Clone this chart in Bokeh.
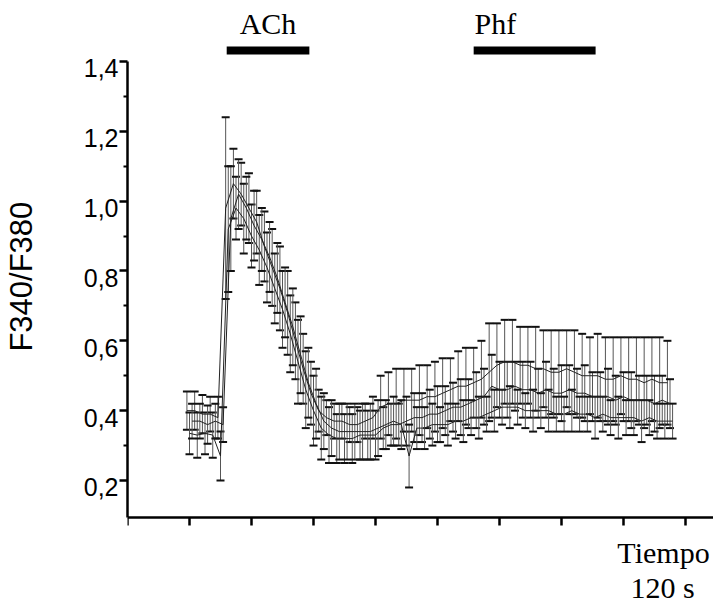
from bokeh.plotting import figure
from bokeh.models import (ColumnDataSource, Whisker, TeeHead, FixedTicker, Range1d,
                          LinearAxis)
from bokeh.core.properties import value
from bokeh.embed import file_html
from bokeh.resources import INLINE

# ---------------- data ----------------
# three cells, sampled every 15 s (staggered start)
time_a = list(range(115, 1046, 15))
time_b = list(range(120, 1051, 15))
time_c = list(range(125, 1056, 15))

a_mean = [0.40, 0.40, 0.39, 0.39, 0.38,
          0.98, 1.05, 1.02, 0.98, 0.94, 0.87, 0.81, 0.75, 0.68, 0.60,
          0.52, 0.45, 0.40, 0.38, 0.37, 0.37, 0.36, 0.36, 0.37, 0.38,
          0.41, 0.42, 0.42, 0.43, 0.43, 0.43, 0.44, 0.44, 0.45, 0.46,
          0.47, 0.47, 0.48, 0.49, 0.51, 0.53, 0.54, 0.54, 0.53, 0.53,
          0.52, 0.52, 0.51, 0.51, 0.52, 0.51, 0.50, 0.50, 0.50, 0.49,
          0.49, 0.50, 0.49, 0.49, 0.48, 0.49, 0.48, 0.48]
a_err = [0.055, 0.055, 0.055, 0.05, 0.06,
         0.26, 0.10, 0.09, 0.10, 0.09, 0.10, 0.11, 0.12, 0.12, 0.11,
         0.10, 0.09, 0.06, 0.05, 0.05, 0.05, 0.05, 0.05, 0.05, 0.06,
         0.09, 0.09, 0.10, 0.09, 0.09, 0.10, 0.09, 0.10, 0.10, 0.09,
         0.10, 0.11, 0.10, 0.11, 0.14, 0.12, 0.12, 0.12, 0.11, 0.11,
         0.12, 0.11, 0.12, 0.12, 0.11, 0.12, 0.12, 0.11, 0.12, 0.12,
         0.12, 0.11, 0.12, 0.12, 0.13, 0.12, 0.13, 0.12]

b_mean = [0.335, 0.33, 0.335, 0.33, 0.27,
          0.92, 0.98, 0.95, 0.90, 0.86, 0.81, 0.75, 0.69, 0.62, 0.54,
          0.46, 0.40, 0.35, 0.33, 0.32, 0.32, 0.32, 0.33, 0.33, 0.33,
          0.35, 0.36, 0.36, 0.37, 0.38, 0.38, 0.39, 0.39, 0.40, 0.41,
          0.41, 0.42, 0.43, 0.44, 0.47, 0.46, 0.46, 0.47, 0.46, 0.46,
          0.45, 0.46, 0.45, 0.45, 0.46, 0.45, 0.45, 0.44, 0.44, 0.44,
          0.43, 0.44, 0.43, 0.43, 0.43, 0.42, 0.43, 0.42]
b_err = [0.06, 0.065, 0.06, 0.065, 0.07,
         0.18, 0.09, 0.10, 0.09, 0.10, 0.10, 0.10, 0.11, 0.11, 0.12,
         0.11, 0.10, 0.09, 0.08, 0.07, 0.07, 0.07, 0.07, 0.07, 0.07,
         0.06, 0.06, 0.06, 0.07, 0.07, 0.07, 0.07, 0.08, 0.07, 0.07,
         0.08, 0.07, 0.08, 0.08, 0.09, 0.08, 0.08, 0.07, 0.08, 0.08,
         0.07, 0.08, 0.07, 0.08, 0.07, 0.07, 0.08, 0.07, 0.07, 0.08,
         0.07, 0.07, 0.08, 0.07, 0.07, 0.08, 0.07, 0.07]

c_mean = [0.37, 0.37, 0.36, 0.37, 0.36,
          0.95, 1.02, 0.98, 0.93, 0.89, 0.84, 0.78, 0.71, 0.64, 0.56,
          0.48, 0.42, 0.37, 0.35, 0.34, 0.34, 0.34, 0.34, 0.34, 0.35,
          0.36, 0.37, 0.36, 0.27, 0.35, 0.35, 0.36, 0.36, 0.36, 0.37,
          0.37, 0.38, 0.38, 0.39, 0.40, 0.41, 0.41, 0.41, 0.40, 0.40,
          0.40, 0.40, 0.39, 0.39, 0.40, 0.39, 0.39, 0.38, 0.39, 0.38,
          0.38, 0.38, 0.38, 0.37, 0.38, 0.37, 0.37, 0.37]
c_err = [0.05, 0.05, 0.055, 0.05, 0.05,
         0.15, 0.10, 0.09, 0.10, 0.09, 0.10, 0.10, 0.10, 0.11, 0.11,
         0.10, 0.10, 0.08, 0.08, 0.08, 0.08, 0.08, 0.08, 0.08, 0.08,
         0.07, 0.07, 0.07, 0.09, 0.06, 0.06, 0.06, 0.05, 0.06, 0.05,
         0.06, 0.05, 0.06, 0.05, 0.06, 0.05, 0.06, 0.05, 0.05, 0.06,
         0.05, 0.06, 0.05, 0.05, 0.06, 0.05, 0.05, 0.06, 0.05, 0.05,
         0.06, 0.05, 0.05, 0.06, 0.05, 0.05, 0.05, 0.05]

y_ticks = [0.2, 0.4, 0.6, 0.8, 1.0, 1.2, 1.4]
y_tick_labels = ["0,2", "0,4", "0,6", "0,8", "1,0", "1,2", "1,4"]
y_minor = [0.3, 0.5, 0.7, 0.9, 1.1, 1.3]
x_ticks = [0, 120, 240, 360, 480, 600, 720, 840, 960, 1080]
y_axis_bounds = (0.094, 1.4)
y_title = "F340/F380"

stim_names = ["ACh", "Phf"]
stim_start = [192, 670]
stim_end = [352, 906]

# ---------------- figure ----------------
PX_PER_S = 0.51667
PX_PER_U = 349.2
FRAME_W, FRAME_H = 586, 604
y_lo = y_axis_bounds[0] - (FRAME_H - 517) / PX_PER_U
y_hi = y_axis_bounds[0] + 517 / PX_PER_U
LABEL_DROP = 7 / PX_PER_U   # tick labels sit slightly below their ticks

p = figure(frame_width=FRAME_W, frame_height=FRAME_H, output_backend="svg",
           toolbar_location=None,
           x_range=Range1d(0, FRAME_W / PX_PER_S), y_range=Range1d(y_lo, y_hi),
           min_border_left=127, min_border_right=0, min_border_top=0,
           min_border_bottom=0)
p.outline_line_color = None
p.grid.visible = False
p.background_fill_color = "white"
p.border_fill_color = "white"
p.extra_y_ranges = {"lab": Range1d(y_lo + LABEL_DROP, y_hi + LABEL_DROP)}

for tt, mean, err in [(time_a, a_mean, a_err), (time_b, b_mean, b_err),
                      (time_c, c_mean, c_err)]:
    src = ColumnDataSource(dict(t=tt, m=mean,
                                up=[m + e for m, e in zip(mean, err)],
                                lo=[m - e for m, e in zip(mean, err)]))
    w = Whisker(source=src, base="t", upper="up", lower="lo", dimension="height",
                line_color="#555555", line_width=1,
                upper_head=TeeHead(size=8, line_color="#111111", line_width=2),
                lower_head=TeeHead(size=8, line_color="#111111", line_width=2))
    p.add_layout(w)
    p.line("t", "m", source=src, line_color="#222222", line_width=1)

# main y axis: line and ticks
ya = p.yaxis[0]
ya.bounds = y_axis_bounds
ya.ticker = FixedTicker(ticks=y_ticks, minor_ticks=y_minor)
ya.major_label_overrides = {v: "" for v in y_ticks}
ya.major_label_text_font_size = "1px"
ya.major_label_standoff = 0

# label-only axis (outer), carrying tick labels and the axis title
lab = LinearAxis(y_range_name="lab",
                 ticker=FixedTicker(ticks=y_ticks, minor_ticks=[]),
                 major_label_overrides={v: s for v, s in zip(y_ticks, y_tick_labels)},
                 axis_line_color=None, major_tick_line_color=None,
                 minor_tick_line_color=None, major_tick_in=0, major_tick_out=0,
                 minor_tick_in=0, minor_tick_out=0, major_label_standoff=1,
                 major_label_text_font="Liberation Sans",
                 major_label_text_font_size="25px", major_label_text_color="black",
                 axis_label="\u00a0" * 6 + y_title,
                 axis_label_text_font="Liberation Sans",
                 axis_label_text_font_size="31px",
                 axis_label_text_font_style="normal",
                 axis_label_text_color="black", axis_label_standoff=42)
p.add_layout(lab, "left")

xa = p.xaxis[0]
xa.fixed_location = y_axis_bounds[0]
xa.ticker = FixedTicker(ticks=x_ticks, minor_ticks=[])
xa.major_label_overrides = {v: "" for v in x_ticks}
xa.major_label_text_font_size = "1px"
xa.major_label_standoff = 0

for ax in (ya, xa):
    ax.axis_line_width = 2.5
    ax.axis_line_color = "black"
    ax.major_tick_line_width = 2.5
    ax.major_tick_line_color = "black"
    ax.major_tick_in = 0
    ax.major_tick_out = 8
    ax.minor_tick_line_width = 2
    ax.minor_tick_line_color = "black"
    ax.minor_tick_in = 0
    ax.minor_tick_out = 4

# stimulus bars and labels (inside the extended frame, above the axis bound)
bar_bottom = y_axis_bounds[1] + 7 / PX_PER_U
bar_top = y_axis_bounds[1] + 15 / PX_PER_U
p.quad(left=stim_start, right=stim_end, bottom=bar_bottom, top=bar_top,
       fill_color="black", line_color=None)
label_x = [s + 80 for s in stim_start]
label_x[1] = stim_start[1] + 42
p.text(x=label_x, y=[y_axis_bounds[1] + 38 / PX_PER_U] * 2, text=stim_names,
       text_font=value("Liberation Serif"), text_font_size="30px",
       text_align="center", text_baseline="alphabetic", text_color="black")

# time scale caption at lower right
p.text(x=[(664 - 128) / PX_PER_S, (663 - 128) / PX_PER_S],
       y=[y_axis_bounds[0] - 35 / PX_PER_U, y_axis_bounds[0] - 70 / PX_PER_U],
       text=["Tiempo", "120 s"],
       text_font=value("Liberation Serif"), text_font_size="30px",
       text_align="center", text_baseline="alphabetic", text_color="black")

open("out.html", "w").write(file_html(p, INLINE))
